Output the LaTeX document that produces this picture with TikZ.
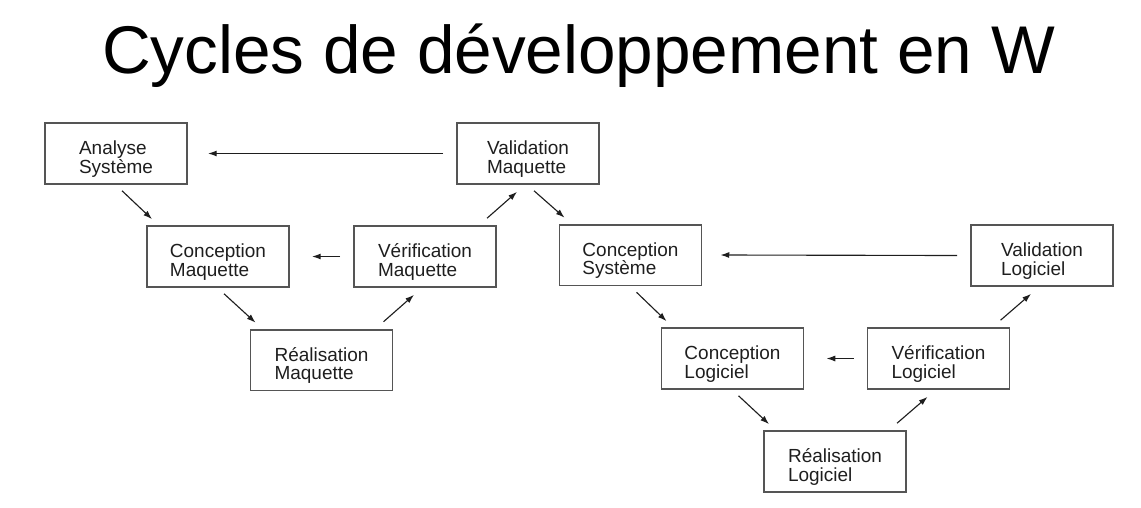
\documentclass[tikz,border=0pt]{standalone}
\usepackage{fontspec}
\setmainfont{Liberation Sans}
\usetikzlibrary{
    positioning,
    arrows.meta,
    calc
}
\definecolor{BoxGray}{RGB}{85,85,85}
\definecolor{Ink}{RGB}{30,30,30}
% two lines of box text, with struts so that every box sits alike
\newcommand{\boxlines}[2]{\rule{0pt}{18pt}#1\\#2\rule[-3pt]{0pt}{3pt}}

\begin{document}
\begin{tikzpicture}[
    x=0.025cm, y=-0.025cm,
    box/.style={draw=BoxGray, line width=1.3pt, minimum width=3.55cm, minimum height=1.52cm,
        inner sep=0pt, align=left, text=Ink, font=\fontsize{13.5}{13}\selectfont},
    arr/.style={-{Latex[length=2.2mm, width=1.5mm]}, line width=0.8pt, draw=Ink},
]
    \useasboundingbox (0,0) rectangle (1141,507);

    % Title
    \node[anchor=base, font=\fontsize{48}{48}\selectfont] (title) at (578.5,73) {Cycles de développement en W};

    % First V (maquette)
    \node[box] (as) at (116,153.5) {\boxlines{Analyse}{Système}};
    \node[box] (vm) at (528,153.5) {\boxlines{Validation}{Maquette}};
    \node[box] (cm) at (218,256.5) {\boxlines{Conception}{Maquette}};
    \node[box] (verm) at (425,256.5) {\boxlines{Vérification}{Maquette}};
    \node[box] (rm) at (321.5,360) {\boxlines{Réalisation}{Maquette}};

    % Second V (logiciel)
    \node[box] (cs) at (630.5,255) {\boxlines{Conception}{Système}};
    \node[box] (vl) at (1042,255.5) {\boxlines{Validation}{Logiciel}};
    \node[box] (cl) at (732.5,358.5) {\boxlines{Conception}{Logiciel}};
    \node[box] (verl) at (938.5,358.5) {\boxlines{Vérification}{Logiciel}};
    \node[box] (rl) at (835,461.5) {\boxlines{Réalisation}{Logiciel}};

    % Going down
    \foreach \a/\b in {as/cm, cm/rm, vm/cs, cs/cl, cl/rl}
        \draw[arr] ($(\a.south west)+(78,6)$) -- ($(\b.north west)+(6,-6)$);

    % Going up
    \foreach \a/\b in {rm/verm, verm/vm, rl/verl, verl/vl}
        \draw[arr] ($(\a.north west)+(134,-7)$) -- ($(\b.south west)+(61,7)$);

    % Feedback (right to left)
    \foreach \a/\b/\g in {vm/as/20, verm/cm/22, vl/cs/18, verl/cl/22}
        \draw[arr] ($(\a.west)+(-13,0)$) -- ($(\b.east)+(\g,0)$);

\end{tikzpicture}
\end{document}
